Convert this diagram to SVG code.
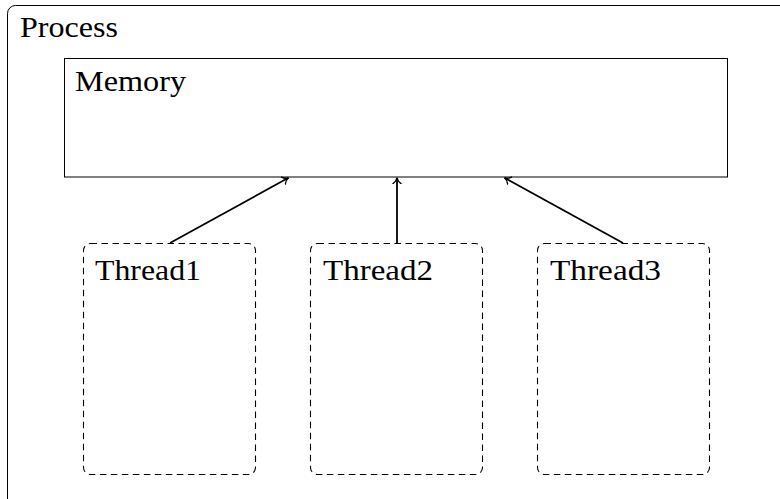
<svg xmlns="http://www.w3.org/2000/svg" width="780" height="499" viewBox="0 0 780 499">
<style>
.lbl{font-family:"Liberation Serif","DejaVu Serif",serif;font-size:29px;fill:#000}
.solid{fill:none;stroke:#000;stroke-width:1}
.thread{fill:none;stroke:#000;stroke-width:1.1;stroke-dasharray:6.5 4.5}
.conn{fill:none;stroke:#000;stroke-width:1.8}
</style>
<defs>
<marker id="arr" viewBox="-6 -5 8 10" refX="0.6" refY="0" markerWidth="8" markerHeight="10" markerUnits="userSpaceOnUse" orient="auto">
<path d="M-5.2,-4 C-3.6,-1.6 -1.4,-0.4 0.6,0 C-1.4,0.4 -3.6,1.6 -5.2,4" fill="none" stroke="#000" stroke-width="1.4" stroke-linecap="round"/>
</marker>
</defs>
<g id="process">
<rect class="solid" x="7.5" y="5.5" width="781" height="504" rx="8"/>
<text class="lbl" x="20" y="37" textLength="98" lengthAdjust="spacingAndGlyphs">Process</text>
</g>
<g id="memory">
<rect class="solid" x="64.5" y="58.5" width="663" height="118.5"/>
<text class="lbl" x="75" y="91" textLength="111" lengthAdjust="spacingAndGlyphs">Memory</text>
</g>
<g id="thread1">
<rect class="thread" x="83.5" y="243.5" width="172" height="231" rx="7"/>
<text class="lbl" x="95" y="280" textLength="106" lengthAdjust="spacingAndGlyphs">Thread1</text>
</g>
<g id="thread2">
<rect class="thread" x="310.5" y="243.5" width="172" height="231" rx="7"/>
<text class="lbl" x="323" y="280" textLength="110" lengthAdjust="spacingAndGlyphs">Thread2</text>
</g>
<g id="thread3">
<rect class="thread" x="537.5" y="243.5" width="172" height="231" rx="7"/>
<text class="lbl" x="550" y="280" textLength="111" lengthAdjust="spacingAndGlyphs">Thread3</text>
</g>
<g id="connectors">
<line class="conn" x1="170" y1="243" x2="288.5" y2="177.8" marker-end="url(#arr)"/>
<line class="conn" x1="397" y1="243" x2="397" y2="177.8" marker-end="url(#arr)"/>
<line class="conn" x1="623" y1="243" x2="504.5" y2="177.8" marker-end="url(#arr)"/>
</g>
</svg>
